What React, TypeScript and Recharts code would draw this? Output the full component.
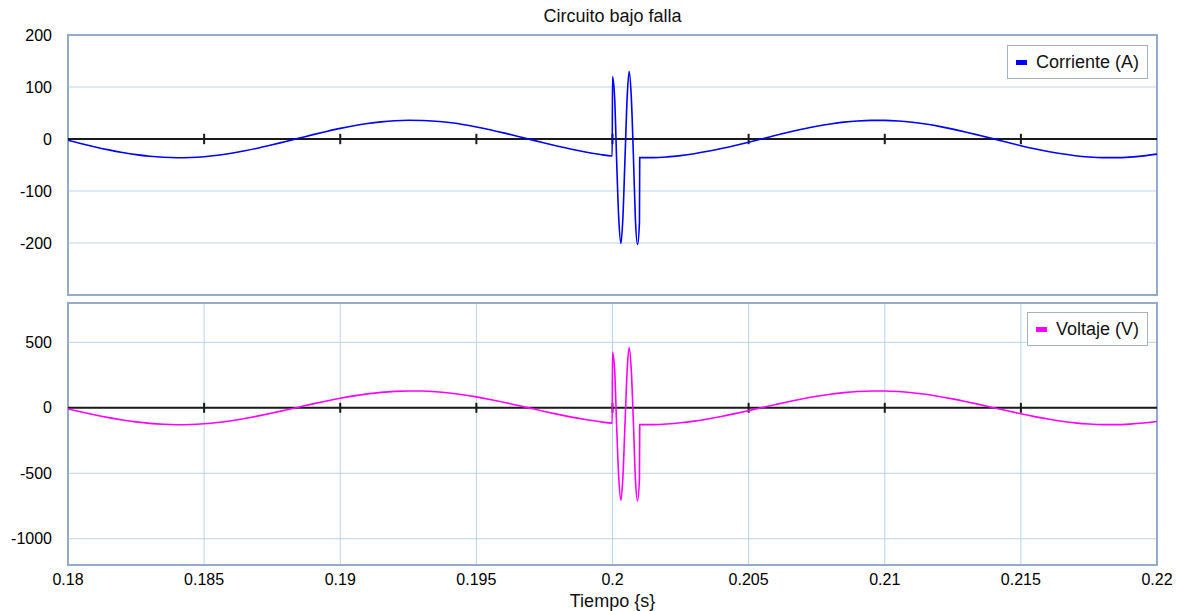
import React from 'react';
import { LineChart, Line, XAxis, YAxis, CartesianGrid, ReferenceLine, ReferenceArea, Legend } from 'recharts';

// time samples (s): smooth part, dense samples through the fault, smooth part again
const time = [
  0.18, 0.1805, 0.181, 0.1815, 0.182, 0.1825, 0.183, 0.1835, 0.184, 0.1845,
  0.185, 0.1855, 0.186, 0.1865, 0.187, 0.1875, 0.188, 0.1885, 0.189, 0.1895,
  0.19, 0.1905, 0.191, 0.1915, 0.192, 0.1925, 0.193, 0.1935, 0.194, 0.1945,
  0.195, 0.1955, 0.196, 0.1965, 0.197, 0.1975, 0.198, 0.1985, 0.199, 0.1995, 0.19999,
  0.2, 0.20008, 0.20015, 0.20023, 0.20031, 0.20038, 0.20046, 0.20054, 0.20061, 0.20069,
  0.20077, 0.20084, 0.20092, 0.20099,
  0.201, 0.2015, 0.202, 0.2025, 0.203, 0.2035, 0.204, 0.2045, 0.205, 0.2055,
  0.206, 0.2065, 0.207, 0.2075, 0.208, 0.2085, 0.209, 0.2095, 0.21, 0.2105,
  0.211, 0.2115, 0.212, 0.2125, 0.213, 0.2135, 0.214, 0.2145, 0.215, 0.2155,
  0.216, 0.2165, 0.217, 0.2175, 0.218, 0.2185, 0.219, 0.2195, 0.22,
];

// Corriente (A)
const current = [
  -2.5, -9.0, -15.2, -20.9, -25.9, -30.1, -33.2, -35.2, -36.0, -35.6,
  -34.0, -31.2, -27.5, -22.7, -17.3, -11.2, -4.7, 1.8, 8.4, 14.6,
  20.4, 25.5, 29.7, 32.9, 35.0, 36.0, 35.7, 34.2, 31.6, 27.9,
  23.2, 17.8, 11.8, 5.4, -1.2, -7.7, -14.0, -19.8, -25.0, -29.3, -32.6,
  120, 78, -38, -153, -201, -153, -36, 81, 130, 81,
  -36, -153, -203, -160,
  -35.9, -35.8, -34.4, -31.9, -28.3, -23.7, -18.4, -12.4, -6.1, 0.5,
  7.1, 13.4, 19.3, 24.5, 28.9, 32.4, 34.7, 35.8, 35.8, 34.6,
  32.2, 28.7, 24.3, 19.0, 13.1, 6.7, 0.2, -6.4, -12.8, -18.7,
  -24.0, -28.5, -32.1, -34.5, -35.8, -35.9, -34.8, -32.5, -29.1,
];

// Voltaje (V)
const voltage = [
  -9, -32.4, -54.6, -75.1, -93.0, -107.7, -118.9, -126.0, -128.9, -127.5,
  -121.8, -112.0, -98.4, -81.5, -61.8, -40.1, -17.0, 6.6, 30.0, 52.5,
  73.1, 91.3, 106.4, 117.9, 125.5, 128.8, 127.8, 122.5, 113.1, 99.9,
  83.3, 63.9, 42.4, 19.4, -4.2, -27.7, -50.3, -71.1, -89.6, -105.0, -117.0,
  426, 285, -125, -535, -705, -535, -122, 290, 460, 290,
  -122, -535, -710, -540,
  -128.7, -128.1, -123.3, -114.3, -101.4, -85.1, -66.0, -44.6, -21.7, 1.8,
  25.4, 48.1, 69.1, 87.9, 103.7, 115.9, 124.3, 128.4, 128.4, 124.0,
  115.3, 102.9, 86.9, 68.0, 46.8, 24.1, 0.5, -23.0, -45.8, -67.1,
  -86.1, -102.2, -114.9, -123.7, -128.3, -128.6, -124.6, -116.4, -104.2,
];

const xTicks = [0.18, 0.185, 0.19, 0.195, 0.2, 0.205, 0.21, 0.215, 0.22];
const currentTicks = [200, 100, 0, -100, -200];
const voltageTicks = [500, 0, -500, -1000];

const rows = time.map((t, i) => ({ t, current: current[i], voltage: voltage[i] }));

const FONT = '"Liberation Sans", Arial, Helvetica, sans-serif';
const GRID = '#b7d3f1';
const FRAME = '#93aac8';
const W = 1179;

function LegendBox({ color, label }: { color: string; label: string }) {
  return (
    <div
      style={{
        display: 'flex',
        alignItems: 'center',
        height: 32,
        padding: '0 8px 0 8px',
        background: '#fff',
        border: '1px solid #a9b3c0',
        fontFamily: FONT,
        fontSize: 18,
        color: '#111',
        whiteSpace: 'nowrap',
      }}
    >
      <span style={{ display: 'inline-block', width: 11, height: 5, background: color, marginRight: 9 }} />
      {label}
    </div>
  );
}

interface PanelProps {
  dataKey: 'current' | 'voltage';
  color: string;
  label: string;
  domain: [number, number];
  ticks: number[];
  tickHalf: number;
  height: number;
  margin: { top: number; right: number; left: number; bottom: number };
  showX: boolean;
  legendPos: { left: number; top: number };
}

function Panel({ dataKey, color, label, domain, ticks, tickHalf, height, margin, showX, legendPos }: PanelProps) {
  const tickStyle = { fill: '#000', fontSize: 16, fontFamily: FONT };
  return (
    <LineChart width={W} height={height} data={rows} margin={margin}>
      <CartesianGrid stroke={GRID} strokeWidth={1} />
      <XAxis
        dataKey="t"
        type="number"
        domain={[0.18, 0.22]}
        ticks={xTicks}
        interval={0}
        allowDataOverflow
        height={showX ? 30 : 0}
        tick={showX ? tickStyle : false}
        tickLine={false}
        axisLine={false}
        tickMargin={3}
      />
      <YAxis
        type="number"
        domain={domain}
        ticks={ticks}
        interval={0}
        allowDataOverflow
        width={68}
        tick={tickStyle}
        tickLine={false}
        axisLine={false}
        tickMargin={10}
      />
      <ReferenceArea x1={0.18} x2={0.22} y1={domain[0]} y2={domain[1]} fill="none" fillOpacity={0} stroke={FRAME} strokeWidth={2} />
      <ReferenceLine y={0} stroke="#1a1a1a" strokeWidth={2} />
      {xTicks.slice(1, -1).map((x) => (
        <ReferenceLine
          key={x}
          segment={[
            { x, y: -tickHalf },
            { x, y: tickHalf },
          ]}
          stroke="#1a1a1a"
          strokeWidth={2}
        />
      ))}
      <Line
        type="monotone"
        dataKey={dataKey}
        stroke={color}
        strokeWidth={1.6}
        dot={false}
        isAnimationActive={false}
      />
      <Legend
        layout="vertical"
        align="center"
        verticalAlign="middle"
        wrapperStyle={{ left: legendPos.left, top: legendPos.top, width: 'auto', height: 'auto' }}
        content={() => <LegendBox color={color} label={label} />}
      />
    </LineChart>
  );
}

export default function App() {
  return (
    <div style={{ position: 'absolute', left: 0, top: 0, width: W, height: 611, background: '#fff', fontFamily: FONT }}>
      <div style={{ position: 'absolute', left: 68, width: 1089, top: 7, textAlign: 'center', fontSize: 18, lineHeight: '18px', color: '#111' }}>
        Circuito bajo falla
      </div>
      <div style={{ position: 'absolute', left: 0, top: 0 }}>
        <Panel
          dataKey="current"
          color="#0000ff"
          label="Corriente (A)"
          domain={[-300, 200]}
          ticks={currentTicks}
          tickHalf={10}
          height={300}
          margin={{ top: 35, right: 22, left: 0, bottom: 5 }}
          showX={false}
          legendPos={{ left: 1007, top: 45 }}
        />
      </div>
      <div style={{ position: 'absolute', left: 0, top: 300 }}>
        <Panel
          dataKey="voltage"
          color="#ff00ff"
          label="Voltaje (V)"
          domain={[-1200, 800]}
          ticks={voltageTicks}
          tickHalf={38}
          height={311}
          margin={{ top: 3, right: 22, left: 0, bottom: 16 }}
          showX
          legendPos={{ left: 1027, top: 12 }}
        />
      </div>
      <div style={{ position: 'absolute', left: 68, width: 1089, top: 592, textAlign: 'center', fontSize: 18, lineHeight: '18px', color: '#111' }}>
        Tiempo {'{s}'}
      </div>
    </div>
  );
}
